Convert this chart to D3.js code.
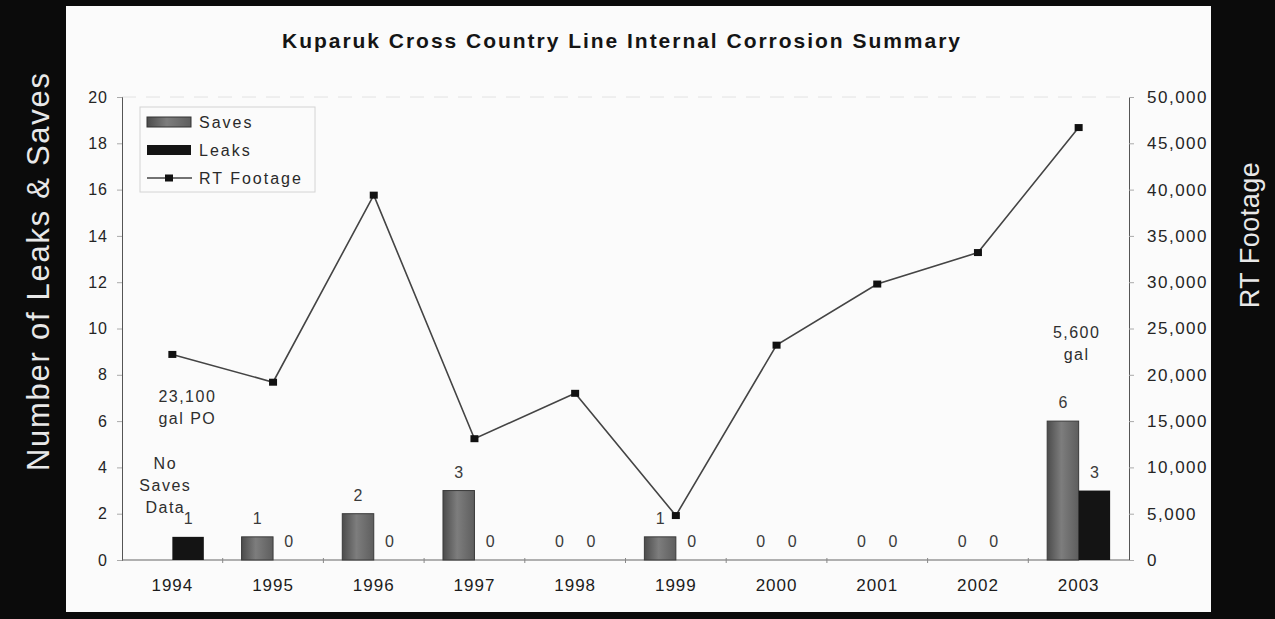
<!DOCTYPE html>
<html>
<head>
<meta charset="utf-8">
<script src="https://cdn.jsdelivr.net/npm/d3@7"></script>
<style>
  body { margin: 0; background: #0b0b0b; }
  text { font-family: "Liberation Sans", Arial, sans-serif; }
</style>
</head>
<body>
<svg id="chart" width="1275" height="619"></svg>
<script>
// data
var years = ["1994", "1995", "1996", "1997", "1998", "1999", "2000", "2001", "2002", "2003"];
var saves = [null, 1, 2, 3, 0, 1, 0, 0, 0, 6];
var leaks = [1, 0, 0, 0, 0, 0, 0, 0, 0, 3];
var rtFootage = [22200, 19200, 39400, 13100, 18000, 4800, 23200, 29800, 33200, 46700];
var countTicks = [0, 2, 4, 6, 8, 10, 12, 14, 16, 18, 20];
var footTicks = [0, 5000, 10000, 15000, 20000, 25000, 30000, 35000, 40000, 45000, 50000];
var seriesNames = ["Saves", "Leaks", "RT Footage"];
var noteText = [["23,100", "gal PO"], ["No", "Saves", "Data"], ["5,600", "gal"]];
var noteYear = ["1994", "1994", "2003"];

var svg = d3.select("#chart");

// white sheet on the dark scan background
svg.append("rect")
  .attr("x", 66).attr("y", 6)
  .attr("width", 1145).attr("height", 606)
  .attr("fill", "#fbfbfb");

var plotL = 122, plotR = 1129, plotT = 97, plotB = 560;

var x0 = d3.scaleBand().domain(years).range([plotL, plotR]).padding(0);
var x1 = d3.scaleBand().domain(["saves", "leaks"])
  .range([0, x0.bandwidth()]).paddingInner(0).paddingOuter(0.6);
var yCount = d3.scaleLinear().domain([0, 20]).range([plotB, plotT]);
var yFoot = d3.scaleLinear().domain([0, 50000]).range([plotB, plotT]);

var defs = svg.append("defs");
var grad = defs.append("linearGradient").attr("id", "saveFill")
  .attr("x1", "0%").attr("x2", "100%").attr("y1", "0%").attr("y2", "0%");
grad.append("stop").attr("offset", "0%").attr("stop-color", "#4c4c4c");
grad.append("stop").attr("offset", "45%").attr("stop-color", "#7d7d7d");
grad.append("stop").attr("offset", "100%").attr("stop-color", "#5e5e5e");

// faint top border of plot area
svg.append("line")
  .attr("x1", plotL).attr("x2", plotR).attr("y1", plotT).attr("y2", plotT)
  .attr("stroke", "#e2e2e2").attr("stroke-dasharray", "14,10");

// left axis
var gl = svg.append("g").attr("transform", "translate(" + plotL + ",0)")
  .call(d3.axisLeft(yCount).tickValues(countTicks).tickSize(5).tickPadding(9));
gl.select(".domain").attr("stroke", "#555");
gl.selectAll(".tick line").attr("stroke", "#aaa");
gl.selectAll(".tick text").attr("fill", "#252525").style("font-size", "16px")
  .style("letter-spacing", "1px");

// right axis
var gr = svg.append("g").attr("transform", "translate(" + plotR + ",0)")
  .call(d3.axisRight(yFoot).tickValues(footTicks).tickSize(5).tickPadding(13)
    .tickFormat(d3.format(",")));
gr.select(".domain").attr("stroke", "#555");
gr.selectAll(".tick line").attr("stroke", "#aaa");
gr.selectAll(".tick text").attr("fill", "#252525").style("font-size", "17px")
  .style("letter-spacing", "1.5px");

// bottom axis: ticks between categories
svg.append("line")
  .attr("x1", plotL).attr("x2", plotR).attr("y1", plotB).attr("y2", plotB)
  .attr("stroke", "#666").attr("stroke-width", 1.2);
svg.selectAll(".xtick")
  .data(years.slice(1))
  .enter()
  .append("line")
  .attr("class", "xtick")
  .attr("x1", function(d) { return x0(d); })
  .attr("x2", function(d) { return x0(d); })
  .attr("y1", plotB - 2).attr("y2", plotB + 3)
  .attr("stroke", "#888");
svg.selectAll(".year")
  .data(years)
  .enter()
  .append("text")
  .attr("class", "year")
  .attr("x", function(d) { return x0(d) + x0.bandwidth() / 2; })
  .attr("y", 591)
  .attr("text-anchor", "middle")
  .attr("fill", "#1c1c1c")
  .style("font-size", "17px")
  .style("letter-spacing", "1px")
  .text(function(d) { return d; });

// bars
var rows = years.map(function(y, i) {
  return [
    { year: y, key: "saves", value: saves[i] },
    { year: y, key: "leaks", value: leaks[i] }
  ];
});
var allBars = [].concat.apply([], rows).filter(function(d) { return d.value !== null; });

svg.selectAll(".bar")
  .data(allBars)
  .enter()
  .append("rect")
  .attr("class", "bar")
  .attr("x", function(d) { return x0(d.year) + x1(d.key); })
  .attr("width", x1.bandwidth())
  .attr("y", function(d) { return yCount(d.value); })
  .attr("height", function(d) { return plotB - yCount(d.value); })
  .attr("fill", function(d) { return d.key == "saves" ? "url(#saveFill)" : "#141414"; })
  .attr("stroke", function(d) { return d.key == "saves" && d.value > 0 ? "#3a3a3a" : "none"; });

svg.selectAll(".barLabel")
  .data(allBars)
  .enter()
  .append("text")
  .attr("class", "barLabel")
  .attr("x", function(d) { return x0(d.year) + x1(d.key) + x1.bandwidth() / 2; })
  .attr("y", function(d) { return yCount(d.value) - 13; })
  .attr("text-anchor", "middle")
  .attr("fill", "#3a3a3a")
  .style("font-size", "16px")
  .text(function(d) { return d.value; });

// RT footage line
var lineData = years.map(function(y, i) { return { year: y, value: rtFootage[i] }; });
var line = d3.line()
  .x(function(d) { return x0(d.year) + x0.bandwidth() / 2; })
  .y(function(d) { return yFoot(d.value); });

svg.append("path")
  .datum(lineData)
  .attr("d", line)
  .attr("fill", "none")
  .attr("stroke", "#444")
  .attr("stroke-width", 1.6);

svg.selectAll(".marker")
  .data(lineData)
  .enter()
  .append("rect")
  .attr("class", "marker")
  .attr("x", function(d) { return x0(d.year) + x0.bandwidth() / 2 - 4; })
  .attr("y", function(d) { return yFoot(d.value) - 3.5; })
  .attr("width", 8).attr("height", 7)
  .attr("fill", "#111");

// notes (first line position in left axis units, x shift from category centre)
var notePos = [[7.1, 15], [4.2, -7], [9.85, -2]];
noteText.forEach(function(lines, n) {
  var cx = x0(noteYear[n]) + x0.bandwidth() / 2 + notePos[n][1];
  var cy = yCount(notePos[n][0]);
  svg.append("text")
    .attr("text-anchor", "middle")
    .attr("fill", "#2e2e2e")
    .style("font-size", "16px")
    .style("letter-spacing", "1.5px")
    .selectAll("tspan")
    .data(lines)
    .enter()
    .append("tspan")
    .attr("x", cx)
    .attr("y", function(d, i) { return cy + 6 + i * 22; })
    .text(function(d) { return d; });
});

// legend
var legend = svg.append("g").attr("transform", "translate(140,107)");
legend.append("rect")
  .attr("width", 175).attr("height", 85)
  .attr("fill", "none").attr("stroke", "#d4d4d4");
var items = legend.selectAll(".item")
  .data(seriesNames)
  .enter()
  .append("g")
  .attr("class", "item")
  .attr("transform", function(d, i) { return "translate(0," + (15 + i * 28) + ")"; });
items.each(function(d, i) {
  var g = d3.select(this);
  if (i < 2) {
    g.append("rect")
      .attr("x", 7).attr("y", -5)
      .attr("width", 44).attr("height", 10)
      .attr("fill", i == 0 ? "url(#saveFill)" : "#141414")
      .attr("stroke", i == 0 ? "#333" : "none");
  } else {
    g.append("line")
      .attr("x1", 7).attr("x2", 52).attr("y1", 0).attr("y2", 0)
      .attr("stroke", "#444").attr("stroke-width", 1.6);
    g.append("rect")
      .attr("x", 25).attr("y", -3.5)
      .attr("width", 8).attr("height", 7)
      .attr("fill", "#111");
  }
});
items.append("text")
  .attr("x", 59).attr("y", 6)
  .attr("fill", "#2a2a2a")
  .style("font-size", "16px")
  .style("letter-spacing", "2px")
  .text(function(d) { return d; });

// title
svg.append("text")
  .attr("x", 621).attr("y", 48)
  .attr("text-anchor", "middle")
  .attr("fill", "#151515")
  .attr("textLength", 678)
  .attr("lengthAdjust", "spacing")
  .style("font-size", "21px")
  .style("font-weight", "bold")
  .text("Kuparuk Cross Country Line Internal Corrosion Summary");

// axis titles on the black margins
svg.append("text")
  .attr("transform", "translate(38,272) rotate(-90)")
  .attr("text-anchor", "middle")
  .attr("dominant-baseline", "central")
  .attr("fill", "#e8e8e8")
  .attr("textLength", 398)
  .attr("lengthAdjust", "spacing")
  .style("font-size", "31px")
  .text("Number of Leaks & Saves");

svg.append("text")
  .attr("transform", "translate(1250,235) rotate(-90)")
  .attr("text-anchor", "middle")
  .attr("dominant-baseline", "central")
  .attr("fill", "#e8e8e8")
  .style("font-size", "27px")
  .style("letter-spacing", "0.5px")
  .text("RT Footage");
</script>
</body>
</html>
